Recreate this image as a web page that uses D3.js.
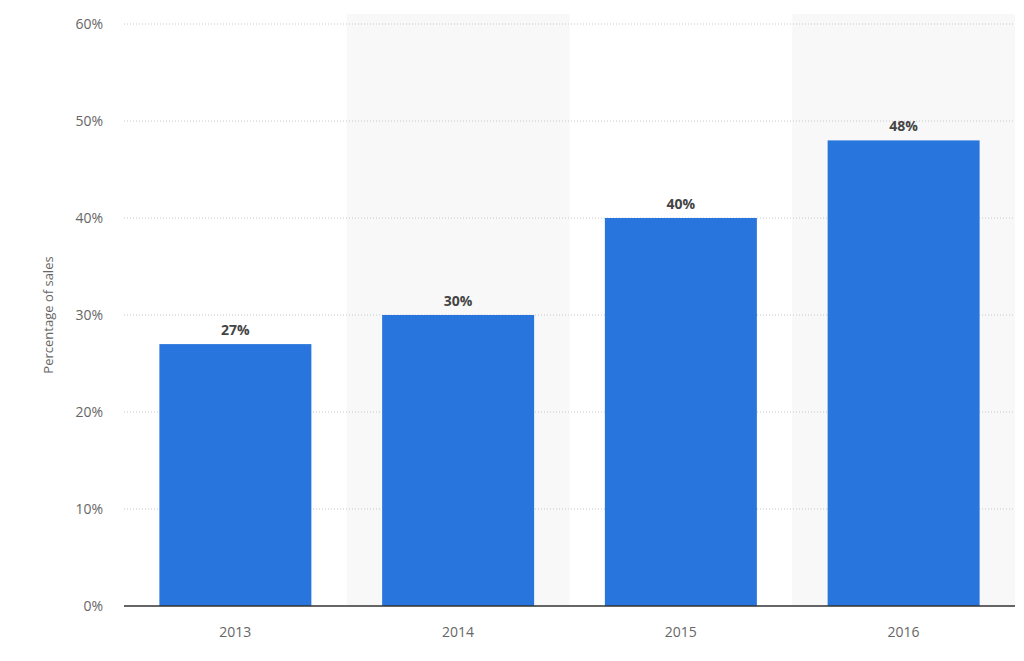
<!DOCTYPE html>
<html><head><meta charset="utf-8">
<script src="https://cdn.jsdelivr.net/npm/d3@7"></script>
<style>body{margin:0;background:#fff;font-family:"Open Sans",sans-serif;}</style>
</head><body>
<svg id="c" width="1024" height="661"></svg>
<script>
const categories = ["2013","2014","2015","2016"];
const values = [27,30,40,48];
const yTicks = [0,10,20,30,40,50,60];

const svg = d3.select("#c");
const m = {l:124, r:1015, t:24, b:606};
const x = d3.scaleBand().domain(categories).range([m.l,m.r]).paddingInner(0).paddingOuter(0);
const y = d3.scaleLinear().domain([0,60]).range([m.b,m.t]);

// alternating band shading
svg.selectAll("rect.band").data(categories.filter((d,i)=>i%2===1)).enter().append("rect")
  .attr("x",d=>x(d)).attr("y",m.t-10).attr("width",x.bandwidth()).attr("height",m.b-m.t+10)
  .attr("fill","#f8f8f8");

// grid
svg.selectAll("line.grid").data(yTicks.filter(d=>d>0)).enter().append("line")
  .attr("x1",m.l).attr("x2",m.r).attr("y1",d=>y(d)).attr("y2",d=>y(d))
  .attr("stroke","#c8c8c8").attr("stroke-dasharray","1,2");

// y labels
svg.selectAll("text.yt").data(yTicks).enter().append("text")
  .attr("x",103).attr("y",d=>y(d)+5).attr("text-anchor","end")
  .attr("font-size",14).attr("fill","#666").text(d=>d+"%");

svg.append("text").attr("transform","translate(53,315) rotate(-90)")
  .attr("text-anchor","middle").attr("font-size",13).attr("fill","#666").text("Percentage of sales");

const bw = 152;
svg.selectAll("rect.bar").data(values).enter().append("rect")
  .attr("x",(d,i)=>x(categories[i])+(x.bandwidth()-bw)/2).attr("width",bw)
  .attr("y",d=>y(d)).attr("height",d=>m.b-y(d)).attr("fill","#2876dd");

svg.selectAll("text.val").data(values).enter().append("text")
  .attr("x",(d,i)=>x(categories[i])+x.bandwidth()/2).attr("y",d=>y(d)-9)
  .attr("text-anchor","middle").attr("font-size",14).attr("font-weight","bold")
  .attr("fill","#444").text(d=>d+"%");

svg.append("line").attr("x1",m.l).attr("x2",m.r).attr("y1",m.b).attr("y2",m.b)
  .attr("stroke","#333").attr("stroke-width",1.5);

svg.selectAll("text.xt").data(categories).enter().append("text")
  .attr("x",d=>x(d)+x.bandwidth()/2).attr("y",637).attr("text-anchor","middle")
  .attr("font-size",14).attr("fill","#666").text(d=>d);
</script>
</body></html>
